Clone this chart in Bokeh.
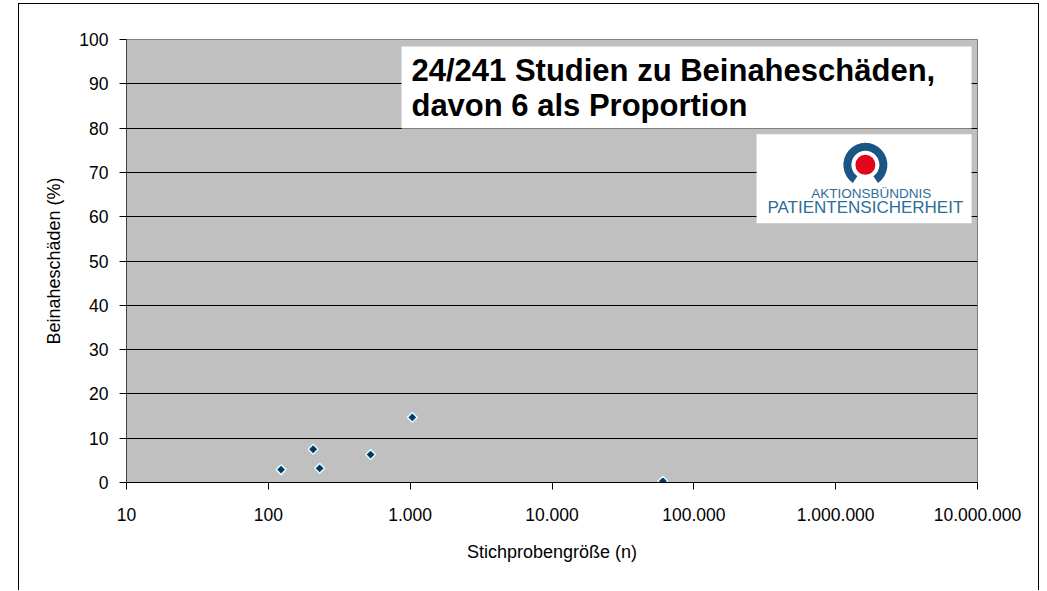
import numpy as np
from bokeh.plotting import figure
from bokeh.models import FixedTicker, ColumnDataSource
from bokeh.core.properties import value
from bokeh.embed import file_html
from bokeh.resources import INLINE

# ---------------- data ----------------
sample_size = [123, 207, 230, 526, 1035, 60500]
near_miss_pct = [2.9, 7.5, 3.2, 6.3, 14.7, 0.3]

x_ticks = [10, 100, 1000, 10000, 100000, 1000000, 10000000]
x_tick_labels = ["10", "100", "1.000", "10.000", "100.000", "1.000.000", "10.000.000"]
y_ticks = [0, 10, 20, 30, 40, 50, 60, 70, 80, 90, 100]

title_lines = ["24/241 Studien zu Beinaheschäden,", "davon 6 als Proportion"]
logo_top = "AKTIONSBÜNDNIS"
logo_bottom = "PATIENTENSICHERHEIT"
x_title = "Stichprobengröße (n)"
y_title = "Beinaheschäden (%)"

FONT = "Liberation Sans"

p = figure(width=1021, height=587, x_axis_type="log",
           x_range=(10, 1e7), y_range=(0, 100),
           output_backend="svg", toolbar_location=None,
           min_border_left=107, min_border_right=63,
           min_border_top=35, min_border_bottom=109,
           background_fill_color="#c0c0c0", border_fill_color="white",
           outline_line_color="#808080")
p.margin = (3, 0, -8, 18)
p.styles = {"border-top": "1px solid black", "border-left": "1px solid black",
            "border-right": "1px solid black"}

# grid
p.xgrid.visible = False
p.ygrid.ticker = FixedTicker(ticks=y_ticks[1:-1])
p.ygrid.grid_line_color = "black"
p.ygrid.grid_line_width = 1

# axes
p.xaxis.ticker = FixedTicker(ticks=x_ticks)
p.xaxis.major_label_overrides = dict(zip(x_ticks, x_tick_labels))
p.yaxis.ticker = FixedTicker(ticks=y_ticks)
for ax in (p.xaxis[0], p.yaxis[0]):
    ax.minor_tick_line_color = None
    ax.major_tick_in = 0
    ax.major_tick_out = 7
    ax.axis_line_color = "black"
    ax.major_tick_line_color = "black"
    ax.major_label_text_font = FONT
    ax.major_label_text_font_size = "17.5px"
    ax.major_label_text_color = "black"
    ax.axis_label_text_font = FONT
    ax.axis_label_text_font_size = "18px"
    ax.axis_label_text_font_style = "normal"
    ax.axis_label_text_color = "black"
p.yaxis.axis_line_color = "#404040"
p.xaxis.major_label_standoff = 18
p.yaxis.major_label_standoff = 11
p.xaxis.axis_label = x_title
p.yaxis.axis_label = y_title
p.xaxis.axis_label_standoff = 18
p.yaxis.axis_label_standoff = 12

# title box
p.quad(left=[869], right=[9.08e6], top=[98.4], bottom=[79.9],
       fill_color="white", line_color=None)
p.text(x=[1021, 1021], y=[93.0, 85.0], text=title_lines,
       text_font=value(FONT), text_font_style="bold",
       text_font_size="31px", text_color="black",
       text_align="left", text_baseline="alphabetic")

# logo box
p.quad(left=[2.77e5], right=[9.08e6], top=[78.6], bottom=[58.5],
       fill_color="white", line_color=None)
p.annular_wedge(x=[1.62e6], y=[71.7], inner_radius=14, outer_radius=22,
                inner_radius_units="screen", outer_radius_units="screen",
                start_angle=np.deg2rad(-55), end_angle=np.deg2rad(235),
                fill_color="#1b5583", line_color=None)
p.scatter(x=[1.62e6], y=[71.7], size=20, marker="circle",
          fill_color="#e3051b", line_color=None)
p.text(x=[1.78e6], y=[65.3], text=[logo_top], text_font=value(FONT),
       text_font_size="13.5px", text_color="#2d6d98", text_align="center",
       text_baseline="alphabetic")
p.text(x=[1.62e6], y=[62.1], text=[logo_bottom], text_font=value(FONT),
       text_font_size="17px", text_color="#2d6d98", text_align="center",
       text_baseline="alphabetic")

# data points
src = ColumnDataSource(dict(n=sample_size, pct=near_miss_pct))
p.scatter("n", "pct", source=src, marker="square", angle=np.pi / 4, size=7,
          fill_color="#0a3560", line_color="#d8ffff", line_width=1.5)

open("out.html", "w").write(file_html(p, INLINE))
